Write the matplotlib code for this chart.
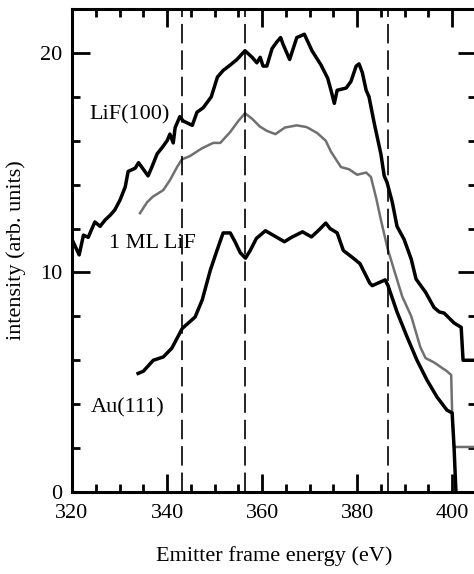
import numpy as np
import matplotlib
matplotlib.use("Agg")
import matplotlib.pyplot as plt
from matplotlib.ticker import MultipleLocator

plt.rcParams['font.family'] = ['Liberation Serif', 'DejaVu Serif']
plt.rcParams['lines.scale_dashes'] = False

# LiF(100) spectrum
lif_x = [320, 321.5, 322.4, 323.4, 324.8, 325.9, 327, 328, 329, 330.1, 331.2, 331.8,
         333.3, 334.0, 336.0, 336.8, 337.9, 339.0, 340.0, 340.6, 341.3, 341.7, 342.7,
         343.4, 345.3, 346.3, 347.6, 349.3, 350.6, 351.8, 353.3, 354.7, 356.4, 357.9,
         358.9, 359.6, 360.2, 361.0, 362.1, 363.1, 363.9, 364.4, 365.8, 367.3, 368.9,
         370.5, 372.4, 373.8, 374.5, 375.2, 375.8, 377.7, 378.7, 379.8, 380.4, 381.1,
         381.9, 382.5, 383.6, 385.0, 385.7, 386.3, 387.4, 388.4, 389.9, 391.4, 392.4,
         394.4, 396.2, 397.3, 398.3, 400.4, 401.9, 402.3, 405]
lif_y = [11.5, 10.8, 11.7, 11.6, 12.3, 12.1, 12.4, 12.6, 12.85, 13.3, 13.9, 14.6,
         14.75, 15.0, 14.4, 14.8, 15.4, 15.7, 16.0, 16.3, 15.9, 16.6, 17.1,
         16.9, 16.7, 17.3, 17.5, 18.0, 18.9, 19.2, 19.45, 19.7, 20.1, 19.8,
         19.55, 19.8, 19.4, 19.4, 20.2, 20.5, 20.7, 20.4, 19.7, 20.7, 20.85,
         20.1, 19.45, 18.85, 18.3, 17.7, 18.3, 18.4, 18.7, 19.4, 19.5, 19.1,
         18.3, 18.0, 16.8, 15.4, 14.4, 14.1, 13.2, 12.1, 11.5, 10.6, 9.7,
         9.1, 8.4, 8.2, 8.15, 7.7, 7.5, 6.0, 6.0]

# 1 ML LiF spectrum
ml_x = [334.3, 335.8, 337.0, 339.2, 340.6, 342.1, 343.1, 344.8, 347.3, 349.7, 351.2,
        353.3, 355.0, 356.4, 357.9, 359.5, 361.0, 362.8, 364.8, 367.3, 369.4, 371.6,
        373.4, 374.5, 376.6, 378.3, 380.0, 381.9, 382.9, 384.0, 385.0, 386.4, 387.8,
        389.5, 391.4, 393.3, 394.4, 396.2, 398.9, 399.8, 400.0, 400.4, 405]
ml_y = [12.7, 13.2, 13.45, 13.75, 14.2, 14.8, 15.15, 15.3, 15.65, 15.9, 15.9,
        16.4, 16.9, 17.25, 17.0, 16.65, 16.45, 16.3, 16.6, 16.7, 16.62, 16.35,
        16.0, 15.5, 14.8, 14.7, 14.45, 14.55, 14.35, 13.4, 12.4, 11.1, 10.1,
        8.9, 8.0, 6.6, 6.1, 5.9, 5.5, 5.33, 3.6, 2.05, 2.05]

# Au(111) spectrum
au_x = [333.9, 335.0, 337.1, 339.2, 341.0, 343.2, 345.9, 347.4, 349.1, 350.5, 351.8,
        353.3, 354.3, 355.4, 356.5, 357.5, 358.8, 360.7, 362.3, 364.7, 366.2, 368.5,
        370.4, 371.8, 373.4, 374.3, 375.8, 377.1, 379.2, 380.6, 382.7, 383.2, 385.9,
        386.5, 388.4, 390.5, 392.6, 394.7, 396.8, 398.9, 400.0, 400.4, 400.8]
au_y = [5.4, 5.5, 6.0, 6.15, 6.55, 7.45, 7.97, 8.75, 10.1, 11.0, 11.8,
        11.8, 11.4, 10.9, 10.65, 11.0, 11.55, 11.9, 11.7, 11.4, 11.6, 11.85,
        11.62, 11.9, 12.25, 12.0, 11.8, 11.0, 10.65, 10.4, 9.5, 9.4, 9.66,
        9.4, 8.2, 7.07, 6.0, 5.1, 4.33, 3.73, 3.6, 2.05, 0.0]

# dashed reference energies
vlines = [343.1, 356.4, 386.4]

fig = plt.figure(figsize=(4.74, 5.74), dpi=100)
ax = fig.add_axes([0.152, 0.1429, 0.852, 0.8414])

ax.plot(lif_x, lif_y, color='black', lw=2.5, solid_joinstyle='round')
ax.plot(ml_x, ml_y, color='#707070', lw=1.8, solid_joinstyle='round')
ax.plot(au_x, au_y, color='black', lw=2.5, solid_joinstyle='round')

for v in vlines:
    ax.axvline(v, color='black', lw=1.2, dashes=(14, 5))

ax.text(323.6, 17.2, 'LiF(100)', fontsize=16, va='center', ha='left')
ax.text(327.8, 11.34, '1 ML LiF', fontsize=16, va='center', ha='left')
ax.text(324.0, 3.83, 'Au(111)', fontsize=16, va='center', ha='left')

ax.set_xlim(320, 405)
ax.set_ylim(0, 22)
ax.xaxis.set_major_locator(MultipleLocator(20))
ax.xaxis.set_minor_locator(MultipleLocator(5))
ax.yaxis.set_major_locator(MultipleLocator(10))
ax.yaxis.set_minor_locator(MultipleLocator(2))
ax.tick_params(which='both', direction='in', top=True, right=True, width=2,
               labelsize=16)
ax.tick_params(which='major', length=13)
ax.tick_params(axis='y', which='major', pad=7)
ax.tick_params(axis='x', which='major', pad=9)
ax.tick_params(which='minor', length=6)
for s in ax.spines.values():
    s.set_linewidth(2.2)

ax.set_xlabel('Emitter frame energy (eV)', fontsize=16, labelpad=16)
ax.set_ylabel('intensity (arb. units)', fontsize=16, labelpad=10)

fig.savefig('out.png', dpi=100)
